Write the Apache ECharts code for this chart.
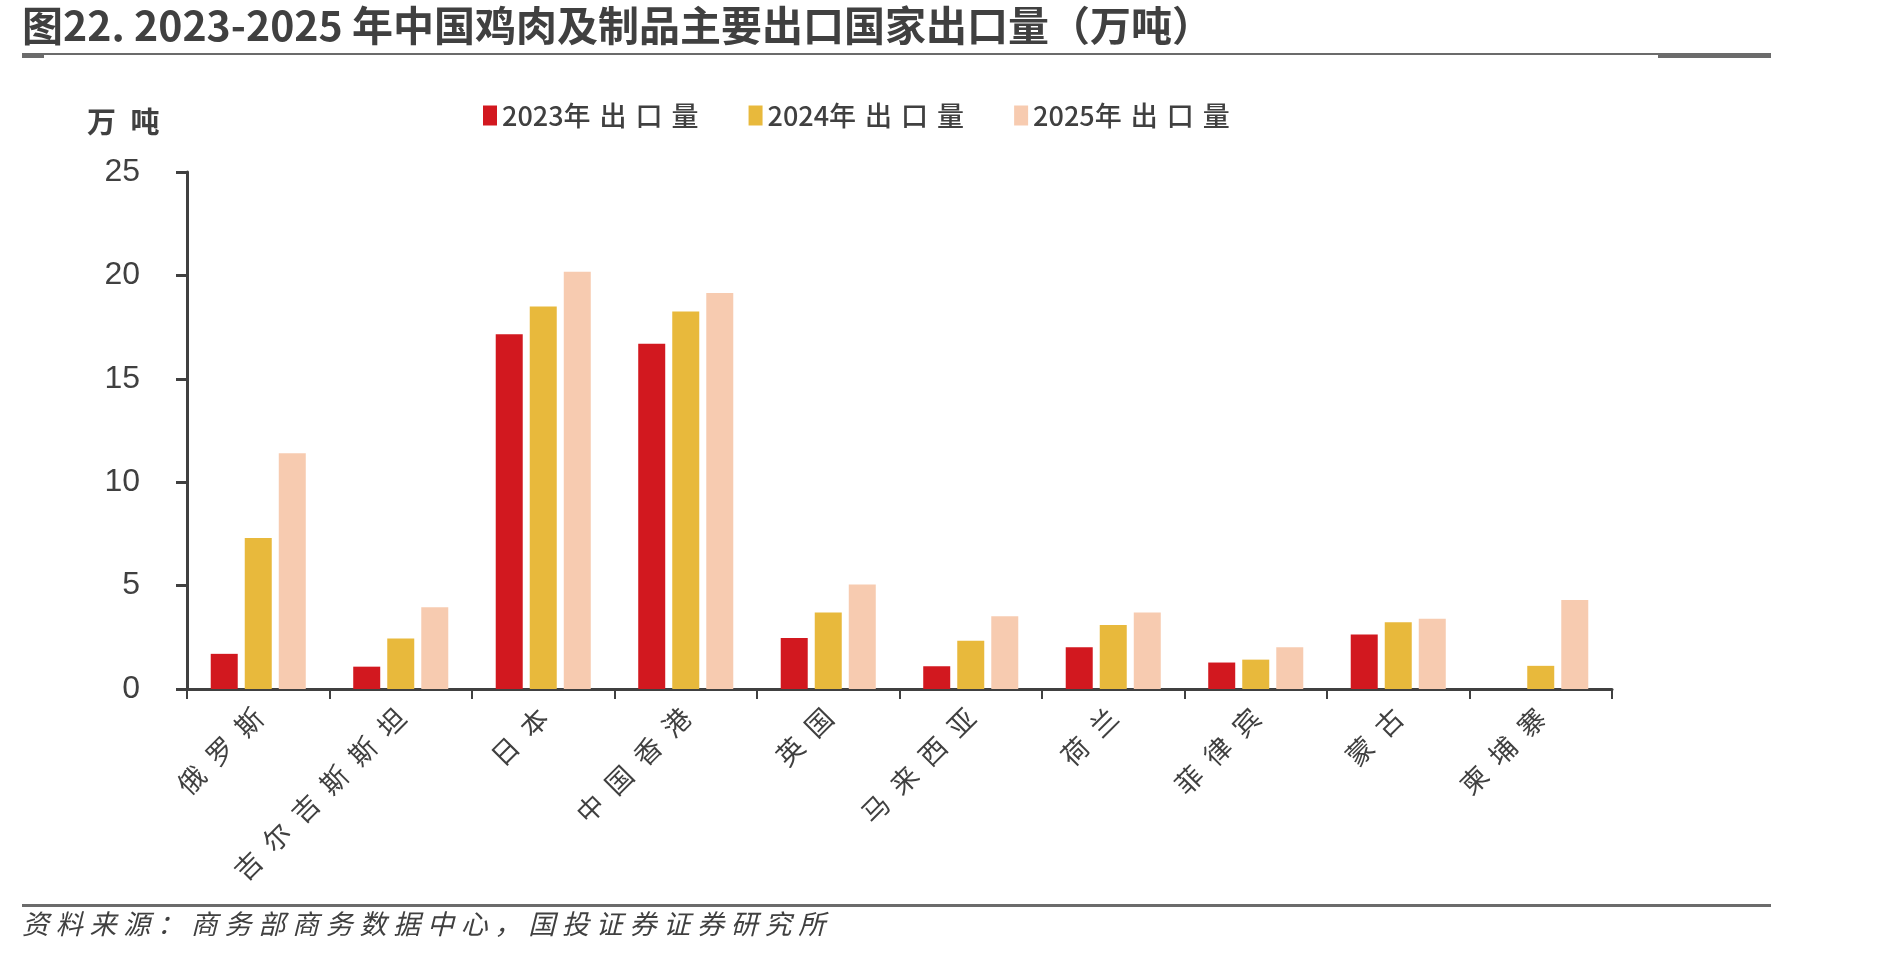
<!DOCTYPE html>
<html>
<head>
<meta charset="utf-8">
<style>
  html, body { margin: 0; padding: 0; background: #fff; }
  #chart { width: 1889px; height: 960px; }
</style>
<script src="https://cdn.jsdelivr.net/npm/echarts@6/dist/echarts.min.js"></script>
</head>
<body>
<div id="chart"></div>
<script>
var countries = ['俄罗斯', '吉尔吉斯斯坦', '日本', '中国香港', '英国', '马来西亚', '荷兰', '菲律宾', '蒙古', '柬埔寨'];
var seriesNames = ['2023年出口量', '2024年出口量', '2025年出口量'];
var exports2023 = [1.7, 1.08, 17.15, 16.7, 2.47, 1.1, 2.02, 1.28, 2.64, null];
var exports2024 = [7.3, 2.44, 18.5, 18.25, 3.7, 2.33, 3.1, 1.42, 3.23, 1.12];
var exports2025 = [11.4, 3.95, 20.18, 19.15, 5.05, 3.52, 3.7, 2.02, 3.4, 4.3];

var ink = '#404040';
var colors = ['#D2181F', '#E8B93C', '#F7CBB0'];
var cjk = '"Noto Sans CJK SC", "Liberation Sans", sans-serif';

// the source font sets CJK characters loosely, so put a small space between them
function spaced(text, gap) {
  var out = '';
  for (var i = 0; i < text.length; i++) {
    out += text[i];
    var next = text[i + 1];
    if (next && text.charCodeAt(i) > 255 && next.charCodeAt(0) > 255) out += gap;
  }
  return out;
}

var chart = echarts.init(document.getElementById('chart'), null, { renderer: 'canvas' });

function barSeries(name, data, color) {
  return {
    name: name,
    type: 'bar',
    data: data,
    barWidth: 27,
    barGap: '26%',
    itemStyle: { color: color },
    emphasis: { disabled: true }
  };
}

chart.setOption({
  animation: false,
  color: colors,
  grid: { left: 187, right: 277, top: 172, bottom: 271, containLabel: false },
  legend: {
    left: 478,
    top: 97,
    itemWidth: 14,
    itemHeight: 20,
    itemGap: 50,
    icon: 'rect',
    formatter: function (name) { return spaced(name, '\u2004'); },
    textStyle: { color: ink, fontSize: 27, fontFamily: cjk, fontWeight: 500 },
    data: seriesNames
  },
  xAxis: {
    type: 'category',
    data: countries,
    axisLine: { lineStyle: { color: ink, width: 3 } },
    axisTick: { show: true, length: 10, lineStyle: { color: ink, width: 2 } },
    axisLabel: {
      rotate: 45,
      interval: 0,
      margin: 24,
      color: ink,
      fontSize: 27,
      fontFamily: cjk,
      formatter: function (v) { return spaced(v, '\u2002'); }
    }
  },
  yAxis: {
    type: 'value',
    min: 0,
    max: 25,
    interval: 5,
    axisLine: { show: true, lineStyle: { color: ink, width: 3 } },
    axisTick: { show: true, inside: false, length: 11, lineStyle: { color: ink, width: 3 } },
    axisLabel: { color: ink, fontSize: 32, margin: 47, fontFamily: '"Liberation Sans", Arial, sans-serif' },
    splitLine: { show: false }
  },
  graphic: [
    {
      type: 'text',
      left: 22,
      top: 5,
      style: {
        text: '图22. 2023-2025 年中国鸡肉及制品主要出口国家出口量（万吨）',
        fill: ink,
        font: 'bold 41px ' + cjk
      }
    },
    {
      type: 'text',
      left: 87,
      top: 107,
      style: { text: '万\u2002吨', fill: ink, font: 'bold 29px ' + cjk }
    },
    { type: 'rect', shape: { x: 22, y: 53, width: 1749, height: 2 }, style: { fill: '#6b6b6b' } },
    { type: 'rect', shape: { x: 22, y: 53, width: 22, height: 5 }, style: { fill: '#6b6b6b' } },
    { type: 'rect', shape: { x: 1658, y: 53, width: 113, height: 5 }, style: { fill: '#6b6b6b' } },
    { type: 'rect', shape: { x: 22, y: 904, width: 1749, height: 3 }, style: { fill: '#6b6b6b' } },
    {
      type: 'text',
      left: 22,
      top: 910,
      style: {
        text: spaced('资料来源：商务部商务数据中心，国投证券证券研究所', '\u2005'),
        fill: ink,
        font: 'italic 27px ' + cjk
      }
    }
  ],
  series: [
    barSeries(seriesNames[0], exports2023, colors[0]),
    barSeries(seriesNames[1], exports2024, colors[1]),
    barSeries(seriesNames[2], exports2025, colors[2])
  ]
});

window.addEventListener('resize', function () { chart.resize(); });
</script>
</body>
</html>
